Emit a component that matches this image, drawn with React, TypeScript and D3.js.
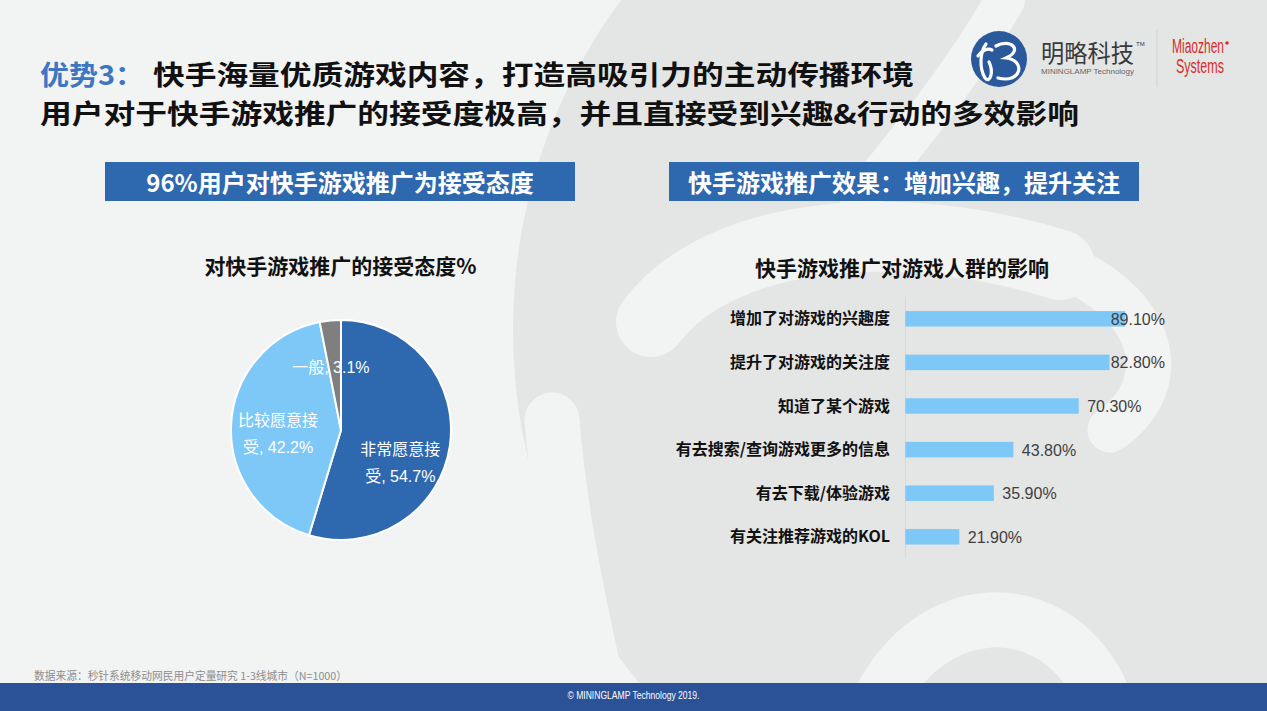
import React from "react";
import * as d3 from "d3";

// ---------- data ----------
const titleLine1Blue = "优势3：";
const titleLine1Rest = "快手海量优质游戏内容，打造高吸引力的主动传播环境";
const titleLine2 = "用户对于快手游戏推广的接受度极高，并且直接受到兴趣&行动的多效影响";
const leftHeader = "96%用户对快手游戏推广为接受态度";
const rightHeader = "快手游戏推广效果：增加兴趣，提升关注";
const pieTitle = "对快手游戏推广的接受态度%";
const barTitle = "快手游戏推广对游戏人群的影响";
const pieCategories = ["非常愿意接受", "比较愿意接受", "一般"];
const pieValues = [54.7, 42.2, 3.1];
const barCategories = [
  "增加了对游戏的兴趣度",
  "提升了对游戏的关注度",
  "知道了某个游戏",
  "有去搜索/查询游戏更多的信息",
  "有去下载/体验游戏",
  "有关注推荐游戏的KOL",
];
const barValues = [89.1, 82.8, 70.3, 43.8, 35.9, 21.9];
const sourceText = "数据来源：秒针系统移动网民用户定量研究 1-3线城市（N=1000）";
const footerText = "© MININGLAMP Technology 2019.";

// ---------- style ----------
const W = 1267;
const H = 711;
const BG = "#f2f3f3";
const WM = "#e4e5e5";
const CJK = "'Noto Sans CJK SC', 'Noto Sans', sans-serif";
const LAT = "'Liberation Sans', Arial, 'Noto Sans CJK SC', sans-serif";
const pieColors = ["#2e69b0", "#7ec8f8", "#7f7f7f"];
const barColor = "#7ec8f8";
const headerBlue = "#2e68ae";
const footerBlue = "#2b5196";

function Watermark() {
  return (
    <g>
      <ellipse cx={1010} cy={330} rx={497} ry={530} fill={WM} />
      <g stroke={BG} fill="none" strokeLinecap="round">
        <path d="M 552 420 C 560 520, 580 610, 600 700" strokeWidth={55} />
        <path d="M 651 322 C 720 230, 900 215, 1060 265" strokeWidth={70} />
        <path d="M 1060 265 C 1150 300, 1180 380, 1110 430" strokeWidth={45} />
        <path d="M 880 700 C 930 600, 1050 590, 1100 690" strokeWidth={55} />
        <path d="M 1005 0 C 960 80, 900 150, 860 200" strokeWidth={40} />
      </g>
    </g>
  );
}

function Logo() {
  return (
    <g>
      <circle cx={999} cy={59} r={28} fill="#2a5a9c" />
      <g stroke="#fff" strokeWidth={3.2} fill="none" strokeLinecap="round">
        <path d="M 986 44 C 980 52, 979 68, 985 78 C 990 84, 994 72, 989 62" />
        <path d="M 978 56 C 982 50, 988 48, 992 50" />
        <path d="M 996 46 C 1010 38, 1024 50, 1006 58 C 1026 60, 1022 84, 998 78" />
      </g>
      <text x={1041} y={62} fontFamily={CJK} fontSize={24} fill="#3a3a3a" textLength={93} lengthAdjust="spacingAndGlyphs">
        明略科技
      </text>
      <text x={1136} y={46} fontFamily={LAT} fontSize={6} fill="#3a3a3a">
        TM
      </text>
      <text x={1041} y={74} fontFamily={LAT} fontSize={8} fill="#666" textLength={93} lengthAdjust="spacingAndGlyphs">
        MININGLAMP Technology
      </text>
      <line x1={1157} x2={1157} y1={30} y2={87} stroke="#d2d2d2" strokeWidth={1} />
      <text x={1172} y={53} fontFamily={LAT} fontSize={20} fill="#d62d2a" textLength={52} lengthAdjust="spacingAndGlyphs">
        Miaozhen
      </text>
      <circle cx={1227} cy={43} r={1.8} fill="#d62d2a" />
      <text x={1176} y={73} fontFamily={LAT} fontSize={20} fill="#d62d2a" textLength={48} lengthAdjust="spacingAndGlyphs">
        Systems
      </text>
    </g>
  );
}

function PieChart() {
  const cx = 341;
  const cy = 430;
  const R = 110;
  const pie = d3.pie<number>().sort(null).value((d) => d);
  const arcs = pie(pieValues);
  const arc = d3.arc<d3.PieArcDatum<number>>().innerRadius(0).outerRadius(R);
  const labelArc = d3.arc<d3.PieArcDatum<number>>().innerRadius(126).outerRadius(0);
  // label nudges (layout only)
  const nudge: Record<string, [number, number]> = {
    非常愿意接受: [-3, 23],
    比较愿意接受: [0, 7],
    一般: [-4, 0],
  };
  return (
    <g>
      <text x={340.5} y={274} textAnchor="middle" fontFamily={CJK} fontWeight={700} fontSize={21} fill="#111">
        {pieTitle}
      </text>
      <g transform={`translate(${cx},${cy})`}>
        {arcs.map((a, i) => (
          <path key={i} d={arc(a) || ""} fill={pieColors[i]} stroke="#fff" strokeWidth={2} />
        ))}
        {arcs.map((a, i) => {
          const name = pieCategories[i];
          const [lx, ly] = labelArc.centroid(a);
          const [nx, ny] = nudge[name] || [0, 0];
          const full = `${name}, ${pieValues[i]}%`;
          const lines = name.length > 4 ? [name.slice(0, 5), `${name.slice(5)}, ${pieValues[i]}%`] : [full];
          const lh = 27;
          const y0 = ly + ny - ((lines.length - 1) * lh) / 2 + 6;
          return (
            <text key={i} textAnchor="middle" fontFamily={LAT} fontSize={16} fill="#fff">
              {lines.map((ln, j) => (
                <tspan key={j} x={lx + nx} y={y0 + j * lh}>
                  {ln}
                </tspan>
              ))}
            </text>
          );
        })}
      </g>
    </g>
  );
}

function BarChart() {
  const x = d3.scaleLinear().domain([0, 100]).range([905.3, 1152]);
  const y = d3
    .scaleBand<string>()
    .domain(barCategories)
    .range([297, 558.6])
    .paddingInner(0.645)
    .paddingOuter(0.3225);
  const bw = y.bandwidth();
  return (
    <g>
      <text x={902} y={276} textAnchor="middle" fontFamily={CJK} fontWeight={700} fontSize={21} fill="#111">
        {barTitle}
      </text>
      <line x1={x(0)} x2={x(0)} y1={y.range()[0]} y2={y.range()[1]} stroke="#d9d9d9" strokeWidth={1} />
      {barCategories.map((c, i) => {
        const yy = y(c) || 0;
        const end = x(barValues[i]);
        const lx = Math.min(end + 8.5, 1110.7);
        return (
          <g key={c}>
            <text x={890} y={yy + bw / 2 + 5.5} textAnchor="end" fontFamily={CJK} fontWeight={700} fontSize={16} fill="#111">
              {c}
            </text>
            <rect x={x(0)} y={yy} width={end - x(0)} height={bw} fill={barColor} />
            <text x={lx} y={yy + bw / 2 + 6} fontFamily={LAT} fontSize={16} fill="#404040">
              {barValues[i].toFixed(2)}%
            </text>
          </g>
        );
      })}
    </g>
  );
}

export default function App() {
  return (
    <svg
      width={W}
      height={H}
      viewBox={`0 0 ${W} ${H}`}
      style={{ position: "absolute", left: 0, top: 0, display: "block" }}
    >
      <rect x={0} y={0} width={W} height={H} fill={BG} />
      <Watermark />
      {/* Title */}
      <text x={40} y={84.5} fontFamily={CJK} fontWeight={700} fontSize={27} fill="#3d77c1" textLength={104} lengthAdjust="spacingAndGlyphs">
        {titleLine1Blue}
      </text>
      <text x={153} y={84.5} fontFamily={CJK} fontWeight={700} fontSize={27} fill="#111" textLength={761} lengthAdjust="spacingAndGlyphs">
        {titleLine1Rest}
      </text>
      <text x={40} y={124} fontFamily={CJK} fontWeight={700} fontSize={27} fill="#111" textLength={1039} lengthAdjust="spacingAndGlyphs">
        {titleLine2}
      </text>
      <Logo />
      {/* Headers */}
      <rect x={105} y={162} width={470} height={39} fill={headerBlue} />
      <text x={340} y={192} textAnchor="middle" fontFamily={CJK} fontWeight={700} fontSize={24} fill="#fff">
        {leftHeader}
      </text>
      <rect x={669} y={162} width={470} height={39} fill={headerBlue} />
      <text x={904} y={192} textAnchor="middle" fontFamily={CJK} fontWeight={700} fontSize={24} fill="#fff">
        {rightHeader}
      </text>
      <PieChart />
      <BarChart />
      {/* Source */}
      <text x={34} y={680} fontFamily={CJK} fontSize={11} fill="#8e8e8e" textLength={313} lengthAdjust="spacingAndGlyphs">
        {sourceText}
      </text>
      <rect x={0} y={683} width={W} height={28} fill={footerBlue} />
      <text x={633.5} y={698.5} textAnchor="middle" fontFamily={LAT} fontSize={10} fill="#fff" textLength={132} lengthAdjust="spacingAndGlyphs">
        {footerText}
      </text>
    </svg>
  );
}
